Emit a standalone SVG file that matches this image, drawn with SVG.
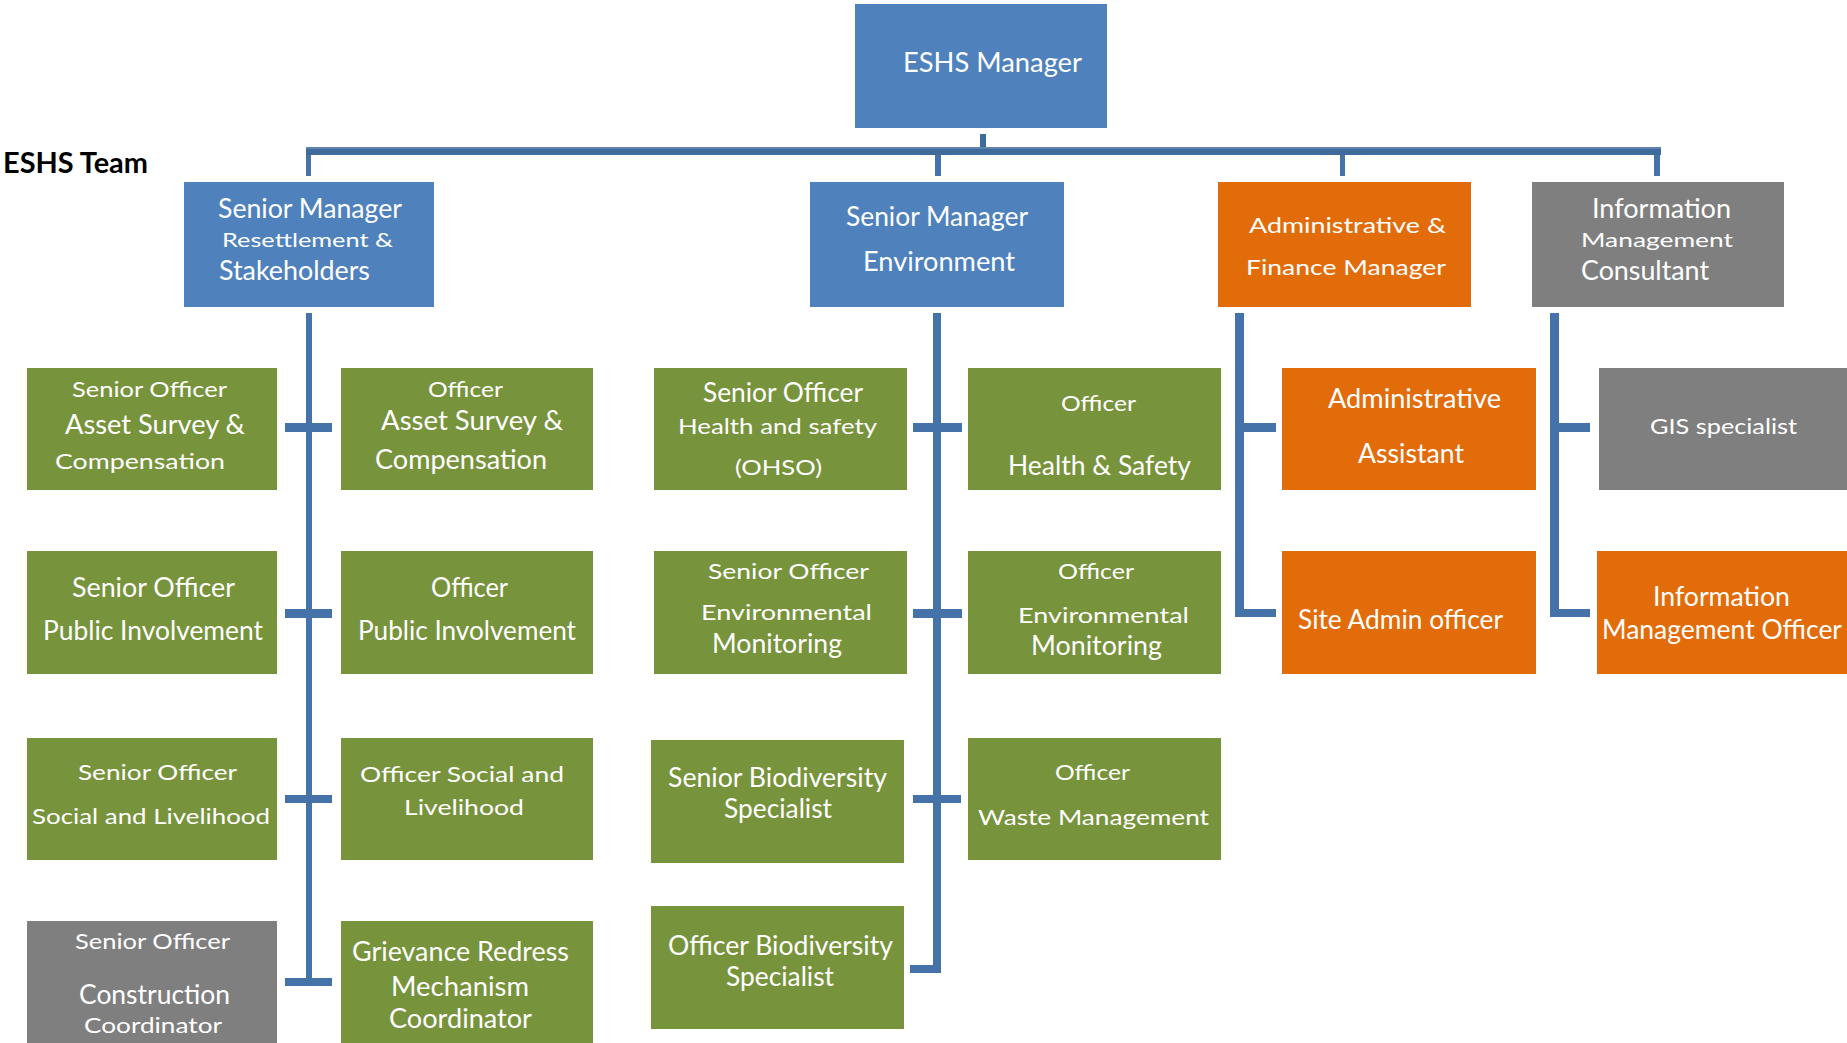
<svg xmlns="http://www.w3.org/2000/svg" width="1847" height="1043" viewBox="0 0 1847 1043">
<style>
.blue{fill:#4F81BD}.green{fill:#77933C}.orange{fill:#E36C0A}.gray{fill:#7F7F7F}
text{font-family:Lato,"Open Sans","Liberation Sans",sans-serif;fill:#FFFFFF}
.t{font-size:26px}.s{font-size:22px}.m{font-size:20px}
.team{font-size:29px;font-weight:bold;fill:#000000}
.ln{stroke:#4672AA;fill:none}
</style>
<rect width="1847" height="1043" fill="#FFFFFF"/>
<g id="connectors">
<rect x="980" y="134" width="6" height="14" fill="#3F6A9C"/>
<rect x="306" y="147" width="1355" height="8" fill="#3F6A9C"/>
<rect x="306" y="147" width="1355" height="2" fill="#5F83AE"/>
<rect x="306" y="155" width="5" height="21" fill="#4672AA"/>
<rect x="935" y="155" width="6" height="21" fill="#4672AA"/>
<rect x="1340" y="155" width="5" height="21" fill="#4672AA"/>
<rect x="1654" y="155" width="6" height="21" fill="#4672AA"/>
<rect x="306" y="313" width="6" height="672" fill="#4672AA"/>
<rect x="285" y="423" width="47" height="9" fill="#4672AA"/>
<rect x="285" y="609" width="47" height="9" fill="#4672AA"/>
<rect x="285" y="795" width="47" height="8" fill="#4672AA"/>
<rect x="285" y="978" width="47" height="8" fill="#4672AA"/>
<rect x="933" y="313" width="8" height="660" fill="#4672AA"/>
<rect x="913" y="423" width="49" height="9" fill="#4672AA"/>
<rect x="913" y="609" width="49" height="9" fill="#4672AA"/>
<rect x="913" y="795" width="48" height="8" fill="#4672AA"/>
<rect x="910" y="965" width="31" height="8" fill="#4672AA"/>
<rect x="1235" y="313" width="9" height="304" fill="#4672AA"/>
<rect x="1235" y="423" width="41" height="9" fill="#4672AA"/>
<rect x="1235" y="609" width="41" height="8" fill="#4672AA"/>
<rect x="1550" y="313" width="9" height="304" fill="#4672AA"/>
<rect x="1550" y="423" width="40" height="9" fill="#4672AA"/>
<rect x="1550" y="609" width="40" height="8" fill="#4672AA"/>
</g>
<g id="team-label"><text class="team" x="3" y="173" textLength="145" lengthAdjust="spacingAndGlyphs">ESHS Team</text></g>
<g id="eshs-manager"><rect class="blue" x="855" y="4" width="252" height="124"/>
<text class="t" x="903" y="72" textLength="179" lengthAdjust="spacingAndGlyphs">ESHS  Manager</text></g>
<g id="sm-resettlement"><rect class="blue" x="184" y="182" width="250" height="125"/>
<text class="t" x="218" y="218" textLength="184" lengthAdjust="spacingAndGlyphs">Senior Manager</text>
<text class="m" x="222" y="247" textLength="171" lengthAdjust="spacingAndGlyphs">Resettlement &amp;</text>
<text class="t" x="219" y="280" textLength="151" lengthAdjust="spacingAndGlyphs">Stakeholders</text></g>
<g id="sm-environment"><rect class="blue" x="810" y="182" width="254" height="125"/>
<text class="t" x="846" y="226" textLength="182" lengthAdjust="spacingAndGlyphs">Senior Manager</text>
<text class="t" x="863" y="271" textLength="152" lengthAdjust="spacingAndGlyphs">Environment</text></g>
<g id="admin-finance"><rect class="orange" x="1218" y="182" width="253" height="125"/>
<text class="s" x="1249" y="233" textLength="197" lengthAdjust="spacingAndGlyphs">Administrative &amp;</text>
<text class="s" x="1246" y="275" textLength="200" lengthAdjust="spacingAndGlyphs">Finance Manager</text></g>
<g id="info-consultant"><rect class="gray" x="1532" y="182" width="252" height="125"/>
<text class="t" x="1592" y="218" textLength="139" lengthAdjust="spacingAndGlyphs">Information</text>
<text class="m" x="1581" y="247" textLength="152" lengthAdjust="spacingAndGlyphs">Management</text>
<text class="t" x="1581" y="280" textLength="128" lengthAdjust="spacingAndGlyphs">Consultant</text></g>
<g id="so-asset"><rect class="green" x="27" y="368" width="250" height="122"/>
<text class="s" x="72" y="397" textLength="155" lengthAdjust="spacingAndGlyphs">Senior Officer</text>
<text class="t" x="65" y="434" textLength="180" lengthAdjust="spacingAndGlyphs">Asset  Survey &amp;</text>
<text class="s" x="55" y="469" textLength="170" lengthAdjust="spacingAndGlyphs">Compensation</text></g>
<g id="o-asset"><rect class="green" x="341" y="368" width="252" height="122"/>
<text class="s" x="428" y="397" textLength="75" lengthAdjust="spacingAndGlyphs">Officer</text>
<text class="t" x="381" y="430" textLength="182" lengthAdjust="spacingAndGlyphs">Asset  Survey &amp;</text>
<text class="t" x="375" y="469" textLength="172" lengthAdjust="spacingAndGlyphs">Compensation</text></g>
<g id="so-public"><rect class="green" x="27" y="551" width="250" height="123"/>
<text class="t" x="72" y="597" textLength="163" lengthAdjust="spacingAndGlyphs">Senior Officer</text>
<text class="t" x="43" y="640" textLength="220" lengthAdjust="spacingAndGlyphs">Public Involvement</text></g>
<g id="o-public"><rect class="green" x="341" y="551" width="252" height="123"/>
<text class="t" x="431" y="597" textLength="77" lengthAdjust="spacingAndGlyphs">Officer</text>
<text class="t" x="358" y="640" textLength="218" lengthAdjust="spacingAndGlyphs">Public Involvement</text></g>
<g id="so-social"><rect class="green" x="27" y="738" width="250" height="122"/>
<text class="s" x="78" y="780" textLength="159" lengthAdjust="spacingAndGlyphs">Senior Officer</text>
<text class="s" x="32" y="824" textLength="238" lengthAdjust="spacingAndGlyphs">Social and Livelihood</text></g>
<g id="o-social"><rect class="green" x="341" y="738" width="252" height="122"/>
<text class="s" x="360" y="782" textLength="204" lengthAdjust="spacingAndGlyphs">Officer Social and</text>
<text class="s" x="404" y="815" textLength="120" lengthAdjust="spacingAndGlyphs">Livelihood</text></g>
<g id="so-construction"><rect class="gray" x="27" y="921" width="250" height="122"/>
<text class="s" x="75" y="949" textLength="155" lengthAdjust="spacingAndGlyphs">Senior Officer</text>
<text class="t" x="79" y="1004" textLength="151" lengthAdjust="spacingAndGlyphs">Construction</text>
<text class="s" x="84" y="1033" textLength="138" lengthAdjust="spacingAndGlyphs">Coordinator</text></g>
<g id="grm-coordinator"><rect class="green" x="341" y="921" width="252" height="122"/>
<text class="t" x="352" y="961" textLength="217" lengthAdjust="spacingAndGlyphs">Grievance Redress</text>
<text class="t" x="391" y="996" textLength="138" lengthAdjust="spacingAndGlyphs">Mechanism</text>
<text class="t" x="389" y="1028" textLength="143" lengthAdjust="spacingAndGlyphs">Coordinator</text></g>
<g id="so-hs"><rect class="green" x="654" y="368" width="253" height="122"/>
<text class="t" x="703" y="402" textLength="160" lengthAdjust="spacingAndGlyphs">Senior Officer</text>
<text class="s" x="678" y="434" textLength="199" lengthAdjust="spacingAndGlyphs">Health and safety</text>
<text class="s" x="735" y="475" textLength="87" lengthAdjust="spacingAndGlyphs">(OHSO)</text></g>
<g id="o-hs"><rect class="green" x="968" y="368" width="253" height="122"/>
<text class="s" x="1061" y="411" textLength="75" lengthAdjust="spacingAndGlyphs">Officer</text>
<text class="t" x="1008" y="475" textLength="183" lengthAdjust="spacingAndGlyphs">Health &amp; Safety</text></g>
<g id="so-env"><rect class="green" x="654" y="551" width="253" height="123"/>
<text class="s" x="708" y="579" textLength="161" lengthAdjust="spacingAndGlyphs">Senior  Officer</text>
<text class="s" x="701" y="620" textLength="171" lengthAdjust="spacingAndGlyphs">Environmental</text>
<text class="t" x="712" y="653" textLength="130" lengthAdjust="spacingAndGlyphs">Monitoring</text></g>
<g id="o-env"><rect class="green" x="968" y="551" width="253" height="123"/>
<text class="s" x="1058" y="579" textLength="76" lengthAdjust="spacingAndGlyphs">Officer</text>
<text class="s" x="1018" y="623" textLength="171" lengthAdjust="spacingAndGlyphs">Environmental</text>
<text class="t" x="1031" y="655" textLength="131" lengthAdjust="spacingAndGlyphs">Monitoring</text></g>
<g id="senior-bio"><rect class="green" x="651" y="740" width="253" height="123"/>
<text class="t" x="668" y="787" textLength="219" lengthAdjust="spacingAndGlyphs">Senior Biodiversity</text>
<text class="t" x="724" y="818" textLength="108" lengthAdjust="spacingAndGlyphs">Specialist</text></g>
<g id="o-waste"><rect class="green" x="968" y="738" width="253" height="122"/>
<text class="s" x="1055" y="780" textLength="75" lengthAdjust="spacingAndGlyphs">Officer</text>
<text class="s" x="978" y="825" textLength="231" lengthAdjust="spacingAndGlyphs">Waste Management</text></g>
<g id="officer-bio"><rect class="green" x="651" y="906" width="253" height="123"/>
<text class="t" x="668" y="955" textLength="225" lengthAdjust="spacingAndGlyphs">Officer Biodiversity</text>
<text class="t" x="726" y="986" textLength="108" lengthAdjust="spacingAndGlyphs">Specialist</text></g>
<g id="admin-assistant"><rect class="orange" x="1282" y="368" width="254" height="122"/>
<text class="t" x="1328" y="408" textLength="173" lengthAdjust="spacingAndGlyphs">Administrative</text>
<text class="t" x="1358" y="463" textLength="106" lengthAdjust="spacingAndGlyphs">Assistant</text></g>
<g id="site-admin"><rect class="orange" x="1282" y="551" width="254" height="123"/>
<text class="t" x="1298" y="629" textLength="205" lengthAdjust="spacingAndGlyphs">Site Admin officer</text></g>
<g id="gis"><rect class="gray" x="1599" y="368" width="248" height="122"/>
<text class="s" x="1650" y="434" textLength="147" lengthAdjust="spacingAndGlyphs">GIS specialist</text></g>
<g id="info-officer"><rect class="orange" x="1597" y="551" width="250" height="123"/>
<text class="t" x="1653" y="606" textLength="137" lengthAdjust="spacingAndGlyphs">Information</text>
<text class="t" x="1602" y="639" textLength="240" lengthAdjust="spacingAndGlyphs">Management Officer</text></g>
</svg>
